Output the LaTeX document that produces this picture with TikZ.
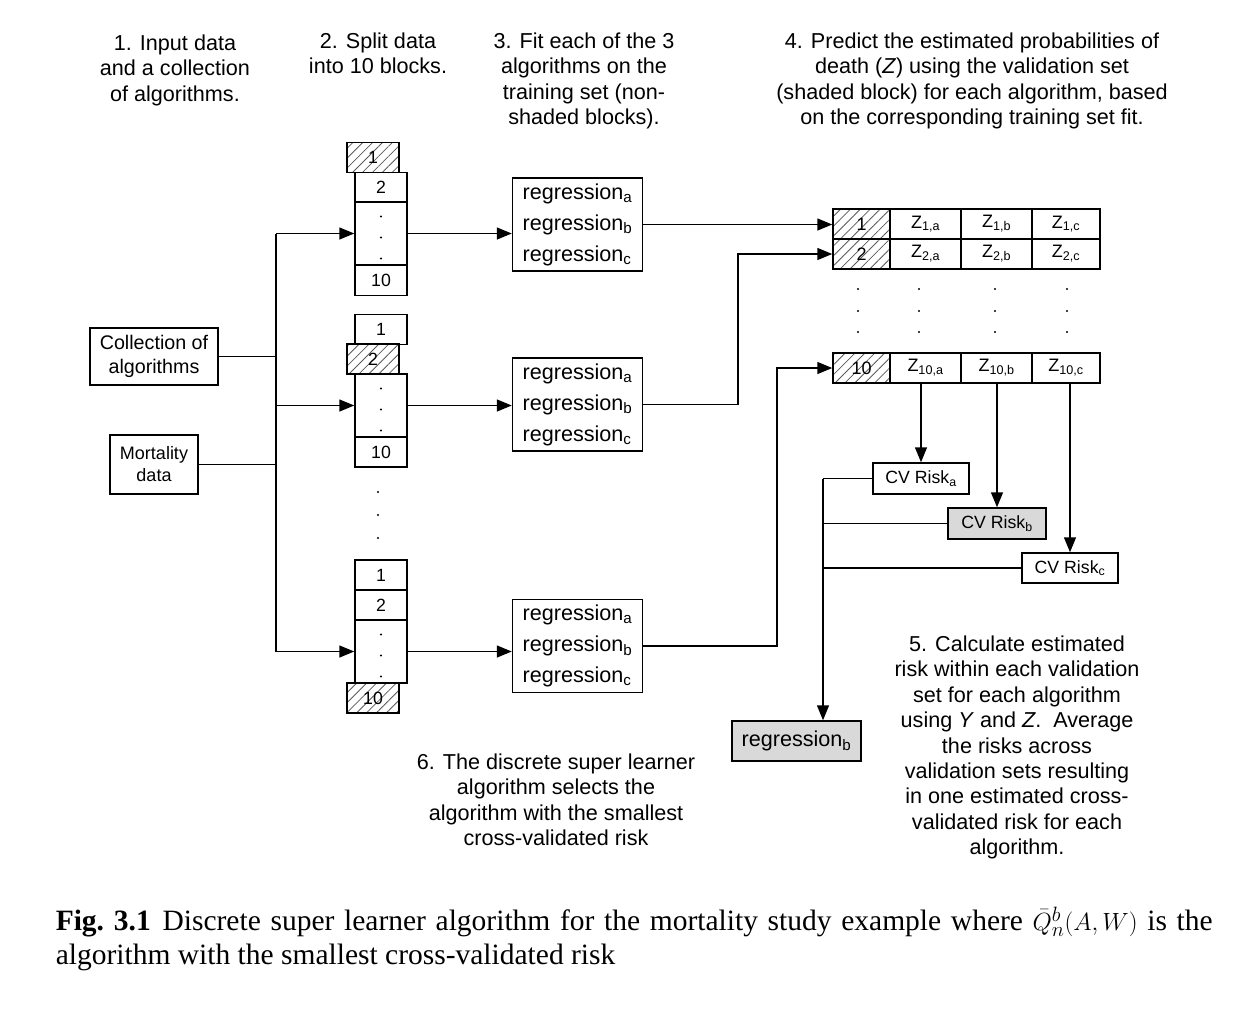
\documentclass[tikz,border=0pt]{standalone}
\usepackage[no-math]{fontspec}
\setmainfont{Liberation Sans}
\newfontfamily\capfont{Liberation Serif}
\usetikzlibrary{positioning,arrows.meta,calc,patterns.meta}
\definecolor{pickgray}{gray}{0.85}

\tikzset{
  note/.style={align=center,inner sep=0pt},
  blk/.style={draw,minimum width=52pt,minimum height=30pt,inner sep=0pt,font=\fontsize{17.7}{21}\selectfont},
  hblk/.style={blk,pattern={Lines[angle=45,distance=7pt,line width=0.8pt]},pattern color=black!65},
  fitbox/.style={draw,align=left,minimum width=130pt,minimum height=93pt,inner sep=2pt,font=\fontsize{21.6}{31}\selectfont},
  zcell/.style={draw,minimum width=71pt,minimum height=30pt,inner sep=0pt,font=\fontsize{18}{21}\selectfont},
  riskbox/.style={draw,minimum width=96pt,minimum height=31pt,inner sep=0pt,font=\fontsize{17.7}{21}\selectfont},
}

\begin{document}
\begin{tikzpicture}[x=1pt,y=-1pt,font=\fontsize{21.6}{25.4}\selectfont,line width=1.5pt,
    >={Triangle[length=15pt,width=12pt]}]
  \useasboundingbox (0,0) rectangle (1260,1020);

  % step headings
  \node[note,anchor=north] (step1) at (175,34) {1. Input data\\and a collection\\of algorithms.};
  \node[note,anchor=north] (step2) at (378,32) {2. Split data\\into 10 blocks.};
  \node[note,anchor=north] (step3) at (584,32) {3. Fit each of the 3\\algorithms on the\\training set (non-\\shaded blocks).};
  \node[note,anchor=north] (step4) at (972,32) {4. Predict the estimated probabilities of\\death (\textit{Z}) using the validation set\\(shaded block) for each algorithm, based\\on the corresponding training set fit.};

  % inputs
  \node[draw,align=center,minimum width=128pt,minimum height=57pt,font=\fontsize{19.7}{24}\selectfont] (coll) at (154,356.5) {Collection of\\algorithms};
  \node[draw,align=center,minimum width=88pt,minimum height=59pt,font=\fontsize{18}{22}\selectfont] (mort) at (154,464.5) {Mortality\\data};

  % the three splits
  \node[hblk] (top1) at (373,157.5) {1};
  \node[blk] (sec1) at (381,187.5) {2};
  \node[blk,minimum height=63pt] (mid1) at (381,233.5) {};
  \node[blk] (bot1) at (381,280.5) {10};

  \node[blk] (top2) at (381,329.5) {1};
  \node[hblk] (sec2) at (373,359) {2};
  \node[blk,minimum height=63pt] (mid2) at (381,405.5) {};
  \node[blk] (bot2) at (381,452) {10};

  \node[blk] (top3) at (381,575) {1};
  \node[blk] (sec3) at (381,605) {2};
  \node[blk,minimum height=63pt] (mid3) at (381,651.5) {};
  \node[hblk] (bot3) at (373,698) {10};

  \foreach \k in {1,2,3}
    \foreach \dy in {-17,4,25}
      \fill ($(mid\k.center)+(0,\dy)$) circle (1.1pt);
  \foreach \y in {492,515,538}
    \fill (378,\y) circle (1.1pt);

  % fits
  \foreach \k/\y in {1/224.5,2/404.5,3/646}
    \node[fitbox] (fit\k) at (577.5,\y) {regression\textsubscript{a}\\regression\textsubscript{b}\\regression\textsubscript{c}};

  % predictions
  \foreach \r/\y in {1/224,2/254,10/368}{
    \node[hblk,minimum width=57pt,font=\fontsize{18}{21}\selectfont] (v\r) at (861.5,\y) {\r};
    \node[zcell] (za\r) at (925.5,\y) {Z\textsubscript{\r,a}};
    \node[zcell] (zb\r) at (996.5,\y) {Z\textsubscript{\r,b}};
    \node[zcell,minimum width=68pt] (zc\r) at (1066,\y) {Z\textsubscript{\r,c}};
  }
  \foreach \x in {858,919,995,1067}
    \foreach \y in {289,311,332}
      \fill (\x,\y) circle (1.1pt);

  % risks
  \node[riskbox] (riska) at (921,478.5) {CV Risk\textsubscript{a}};
  \node[riskbox,fill=pickgray,minimum width=98pt] (riskb) at (997,523.5) {CV Risk\textsubscript{b}};
  \node[riskbox,minimum height=30pt] (riskc) at (1070,568) {CV Risk\textsubscript{c}};
  \node[draw,fill=pickgray,minimum width=129pt,minimum height=40pt,inner sep=0pt] (best) at (796.5,741) {regression\textsubscript{b}};

  % connectors
  \coordinate (spine) at (276,0);
  \coordinate (jog2) at (738,0);
  \coordinate (jog3) at (777,0);
  \coordinate (collect) at (823,0);
  \draw (coll.east) -- (coll.east -| spine);
  \draw (mort.east) -- (mort.east -| spine);
  \draw (mid1.west -| spine) -- (mid3.west -| spine);
  \foreach \k in {1,2,3}{
    \draw[->] (mid\k.west -| spine) -- (mid\k.west);
    \draw[->] (mid\k.east) -- (mid\k.east -| fit\k.west);
  }
  \draw[->] (fit1.east) -- (fit1.east -| v1.west);
  \draw[->] (fit2.east) -- (fit2.east -| jog2) |- (v2.west);
  \draw[->] (fit3.east) -- (fit3.east -| jog3) |- (v10.west);
  \draw[->] (za10.south -| riska.north) -- (riska.north);
  \draw[->] (zb10.south -| riskb.north) -- (riskb.north);
  \draw[->] (zc10.south -| riskc.north) -- (riskc.north);
  \foreach \s in {a,b,c}
    \draw (risk\s.west) -- (risk\s.west -| collect);
  \draw[->] (riska.west -| collect) -- (collect |- best.north);

  % remaining steps
  \node[note,anchor=north] (step5) at (1017,635) {5. Calculate estimated\\risk within each validation\\set for each algorithm\\using \textit{Y} and \textit{Z}.\ \ Average\\the risks across\\validation sets resulting\\in one estimated cross-\\validated risk for each\\algorithm.};
  \node[note,anchor=north] (step6) at (556,753) {6. The discrete super learner\\algorithm selects the\\algorithm with the smallest\\cross-validated risk};

  % caption
  \node[anchor=north west,inner sep=0pt,text width=1157pt,align=justify,font=\capfont\fontsize{29.5}{34}\selectfont] (caption) at (55,906)
    {\mbox{\textbf{Fig. 3.1}}\hspace{0.4em}Discrete super learner algorithm for the mortality study example where $\bar{Q}_n^b(A,W)$ is the\linebreak algorithm with the smallest cross-validated risk};
\end{tikzpicture}
\end{document}
